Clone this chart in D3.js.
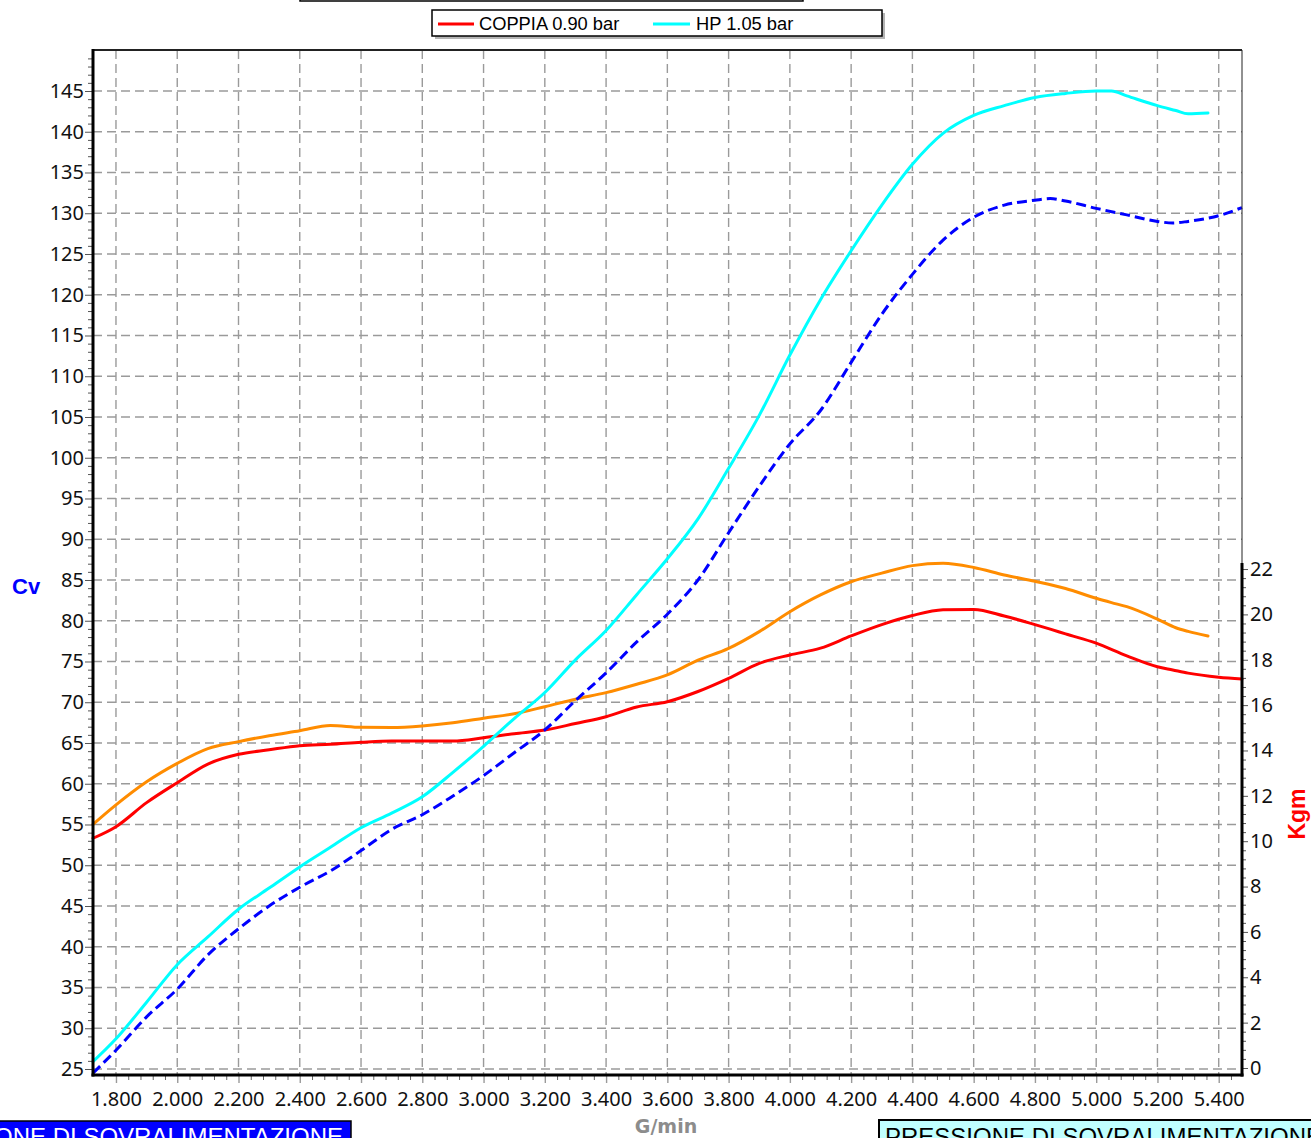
<!DOCTYPE html>
<html>
<head>
<meta charset="utf-8">
<script src="https://cdn.jsdelivr.net/npm/d3@7"></script>
<style>
  html, body { margin: 0; padding: 0; background: #fff; overflow: hidden; }
  svg { display: block; }
</style>
</head>
<body>
<svg id="chart" width="1311" height="1138"></svg>
<script>
// ---- data ----
const rpm090 = [1725,1800,1900,2000,2100,2200,2300,2400,2500,2600,2700,2800,2900,3000,3100,3200,3300,3400,3500,3600,3700,3800,3900,4000,4100,4200,4300,4400,4500,4600,4700,4800,4850,4900,5000,5100,5200,5250,5300,5400,5476];
const hp090 = [24.5,27.3,31.4,34.8,39.0,42.2,45.0,47.3,49.3,51.8,54.4,56.2,58.5,61.0,63.8,66.6,70.2,73.6,77.4,80.8,85.0,90.8,96.5,101.7,105.8,111.7,117.6,122.5,126.7,129.5,131.0,131.6,131.8,131.5,130.6,129.8,129.0,128.8,129.0,129.7,130.7];
const kgm090 = [10.13,10.64,11.70,12.58,13.40,13.83,14.03,14.21,14.27,14.36,14.42,14.42,14.42,14.56,14.74,14.90,15.19,15.49,15.92,16.15,16.60,17.18,17.84,18.21,18.51,19.05,19.55,19.95,20.20,20.22,19.93,19.55,19.35,19.14,18.73,18.17,17.69,17.55,17.41,17.23,17.15];

const rpm105 = [1725,1800,1900,2000,2100,2200,2300,2400,2500,2600,2700,2800,2900,3000,3100,3200,3300,3400,3500,3600,3700,3800,3900,4000,4100,4200,4300,4400,4500,4600,4700,4800,4900,5000,5050,5100,5200,5260,5300,5365];
const hp105 = [25.9,28.7,33.2,37.8,41.2,44.6,47.2,49.8,52.2,54.6,56.4,58.4,61.4,64.6,68.0,71.2,75.2,78.8,83.2,87.6,92.5,98.7,105.2,112.6,119.4,125.4,131.0,136.0,139.8,142.0,143.2,144.2,144.7,145.0,145.0,144.4,143.2,142.6,142.2,142.3];
const kgm105 = [10.74,11.60,12.62,13.43,14.08,14.39,14.65,14.87,15.10,15.02,15.01,15.08,15.22,15.42,15.62,15.93,16.26,16.55,16.92,17.33,17.98,18.50,19.24,20.12,20.86,21.44,21.82,22.15,22.25,22.07,21.74,21.46,21.14,20.71,20.52,20.34,19.79,19.41,19.25,19.05];

const xTicks = d3.range(1800, 5401, 200);
const cvTicks = d3.range(25, 146, 5);
const kgmTicks = d3.range(0, 23, 2);
const legendLabels = ["COPPIA 0.90 bar", "HP 1.05 bar"];
const axisTitles = { x: "G/min", left: "Cv", right: "Kgm" };
const footerText = "PRESSIONE DI SOVRALIMENTAZIONE";

// ---- layout ----
const L = 93, R = 1242, T = 50, B = 1075, RT = 563;
const svg = d3.select("#chart");
const x = d3.scaleLinear().domain([1725, 5476]).range([L, R]);
const yL = d3.scaleLinear().domain([24.264, 150.03]).range([B, T]);
const yR = d3.scaleLinear().domain([-0.3086, 22.266]).range([B, RT]);
const loc = d3.formatLocale({thousands: ".", decimal: ",", grouping: [3], currency: ["", ""]});
const fmt = loc.format(",");
const tickFont = "'Noto Sans', 'Open Sans', sans-serif";

// top cut-off title box
svg.append("rect").attr("x", 300).attr("y", -30).attr("width", 503).attr("height", 31)
  .attr("fill", "#fff").attr("stroke", "#000").attr("stroke-width", 1.5);

// grid
const grid = svg.append("g").attr("stroke", "#9a9a9a").attr("stroke-width", 1.4).attr("stroke-dasharray", "9,5");
grid.selectAll("line.h").data(cvTicks).join("line").attr("class", "h")
  .attr("x1", L).attr("x2", R).attr("y1", d => yL(d)).attr("y2", d => yL(d));
grid.selectAll("line.v").data(xTicks).join("line").attr("class", "v")
  .attr("x1", d => x(d)).attr("x2", d => x(d)).attr("y1", T).attr("y2", B);

// curves
const line = (xs, ys, yScale) => d3.line().curve(d3.curveMonotoneX)
  .x((d, i) => x(xs[i])).y(d => yScale(d))(ys);
const curves = svg.append("g").attr("fill", "none").attr("stroke-linejoin", "round").attr("stroke-linecap", "round");
curves.append("path").attr("d", line(rpm105, kgm105, yR)).attr("stroke", "#ff8c00").attr("stroke-width", 3);
curves.append("path").attr("d", line(rpm090, kgm090, yR)).attr("stroke", "#ff0000").attr("stroke-width", 3);
curves.append("path").attr("d", line(rpm090, hp090, yL)).attr("stroke", "#0000ff").attr("stroke-width", 3)
  .attr("stroke-dasharray", "10,5").attr("stroke-linecap", "butt");
curves.append("path").attr("d", line(rpm105, hp105, yL)).attr("stroke", "#00ffff").attr("stroke-width", 3);

// frame lines
svg.append("line").attr("x1", L).attr("x2", R).attr("y1", T).attr("y2", T).attr("stroke", "#222").attr("stroke-width", 2);
svg.append("line").attr("x1", R).attr("x2", R).attr("y1", T).attr("y2", RT).attr("stroke", "#222").attr("stroke-width", 1);

// left axis
const minorCv = d3.range(24, 151, 1).filter(v => v % 5 !== 0 && v >= 24.3);
svg.append("g").attr("transform", `translate(${L},0)`)
  .call(d3.axisLeft(yL).tickValues(minorCv).tickSize(5).tickFormat(""))
  .call(g => g.select(".domain").remove())
  .call(g => g.selectAll("line").attr("stroke", "#555"));
svg.append("g").attr("transform", `translate(${L},0)`)
  .call(d3.axisLeft(yL).tickValues(cvTicks).tickSize(8).tickPadding(1).tickFormat(d3.format("d")))
  .call(g => g.select(".domain").remove())
  .call(g => g.selectAll("line").attr("stroke", "#555"))
  .call(g => g.selectAll("text").attr("font-family", tickFont).attr("font-size", 20).attr("fill", "#111"));

// right axis
const minorK = d3.range(0, 22.3, 0.4).filter(v => Math.abs(v / 2 - Math.round(v / 2)) > 0.01);
svg.append("g").attr("transform", `translate(${R},0)`)
  .call(d3.axisRight(yR).tickValues(minorK).tickSize(4).tickFormat(""))
  .call(g => g.select(".domain").remove())
  .call(g => g.selectAll("line").attr("stroke", "#555"));
svg.append("g").attr("transform", `translate(${R},0)`)
  .call(d3.axisRight(yR).tickValues(kgmTicks).tickSize(6).tickPadding(2).tickFormat(d3.format("d")))
  .call(g => g.select(".domain").remove())
  .call(g => g.selectAll("line").attr("stroke", "#555"))
  .call(g => g.selectAll("text").attr("font-family", tickFont).attr("font-size", 20).attr("fill", "#111"));

// bottom axis
const minorX = d3.range(1760, 5476, 40).filter(v => v % 200 !== 0);
svg.append("g").attr("transform", `translate(0,${B})`)
  .call(d3.axisBottom(x).tickValues(minorX).tickSize(5).tickFormat(""))
  .call(g => g.select(".domain").remove())
  .call(g => g.selectAll("line").attr("stroke", "#666"));
svg.append("g").attr("transform", `translate(0,${B})`)
  .call(d3.axisBottom(x).tickValues(xTicks).tickSize(8).tickFormat(fmt))
  .call(g => g.select(".domain").remove())
  .call(g => g.selectAll("line").attr("stroke", "#9a9a9a").attr("stroke-width", 1.4))
  .call(g => g.selectAll("text").attr("font-family", tickFont).attr("font-size", 20).attr("fill", "#111")
    .attr("y", 31).attr("dy", 0));

// thick axis lines
svg.append("line").attr("x1", L).attr("x2", L).attr("y1", T - 1).attr("y2", B + 1.5).attr("stroke", "#000").attr("stroke-width", 3);
svg.append("line").attr("x1", L - 1.5).attr("x2", R + 1.5).attr("y1", B).attr("y2", B).attr("stroke", "#000").attr("stroke-width", 3);
svg.append("line").attr("x1", R).attr("x2", R).attr("y1", RT).attr("y2", B + 1.5).attr("stroke", "#000").attr("stroke-width", 3);

// axis titles
svg.append("text").attr("x", 12).attr("y", 594).text(axisTitles.left)
  .attr("font-family", "'Liberation Sans', Arial, sans-serif").attr("font-weight", "bold")
  .attr("font-size", 22).attr("fill", "#0000ff");
svg.append("text").attr("transform", "translate(1305,814) rotate(-90)").attr("text-anchor", "middle")
  .text(axisTitles.right)
  .attr("font-family", "'Liberation Sans', Arial, sans-serif").attr("font-weight", "bold")
  .attr("font-size", 23).attr("fill", "#ff0000");
svg.append("text").attr("x", 666).attr("y", 1133).attr("text-anchor", "middle").text(axisTitles.x)
  .attr("font-family", "'DejaVu Sans', sans-serif").attr("font-weight", "bold")
  .attr("font-size", 19).attr("fill", "#8c8c8c");

// legend
const lg = svg.append("g");
lg.append("rect").attr("x", 435).attr("y", 13).attr("width", 450).attr("height", 26).attr("fill", "#b4b4b4");
lg.append("rect").attr("x", 432).attr("y", 10).attr("width", 450).attr("height", 26)
  .attr("fill", "#fff").attr("stroke", "#000").attr("stroke-width", 1.5);
const legendItems = [
  {label: legendLabels[0], color: "#ff0000", x1: 438, x2: 474, tx: 479},
  {label: legendLabels[1], color: "#00ffff", x1: 653, x2: 690, tx: 696}
];
legendItems.forEach(it => {
  lg.append("line").attr("x1", it.x1).attr("x2", it.x2).attr("y1", 24).attr("y2", 24)
    .attr("stroke", it.color).attr("stroke-width", 3);
  lg.append("text").attr("x", it.tx).attr("y", 30).text(it.label)
    .attr("font-family", "'Liberation Sans', Arial, sans-serif").attr("font-size", 18.3).attr("fill", "#000");
});

// footer boxes
svg.append("rect").attr("x", -5).attr("y", 1121).attr("width", 356).attr("height", 40)
  .attr("fill", "#0000ff").attr("stroke", "#000").attr("stroke-width", 1.5);
svg.append("text").attr("x", 343).attr("y", 1145).attr("text-anchor", "end").text(footerText)
  .attr("font-family", "'Liberation Sans', Arial, sans-serif").attr("font-size", 24).attr("fill", "#fff");
svg.append("rect").attr("x", 879).attr("y", 1120).attr("width", 460).attr("height", 40)
  .attr("fill", "#c0ffff").attr("stroke", "#000").attr("stroke-width", 2);
svg.append("text").attr("x", 885).attr("y", 1145).text(footerText)
  .attr("font-family", "'Liberation Sans', Arial, sans-serif").attr("font-size", 24).attr("fill", "#000");
</script>
</body>
</html>
